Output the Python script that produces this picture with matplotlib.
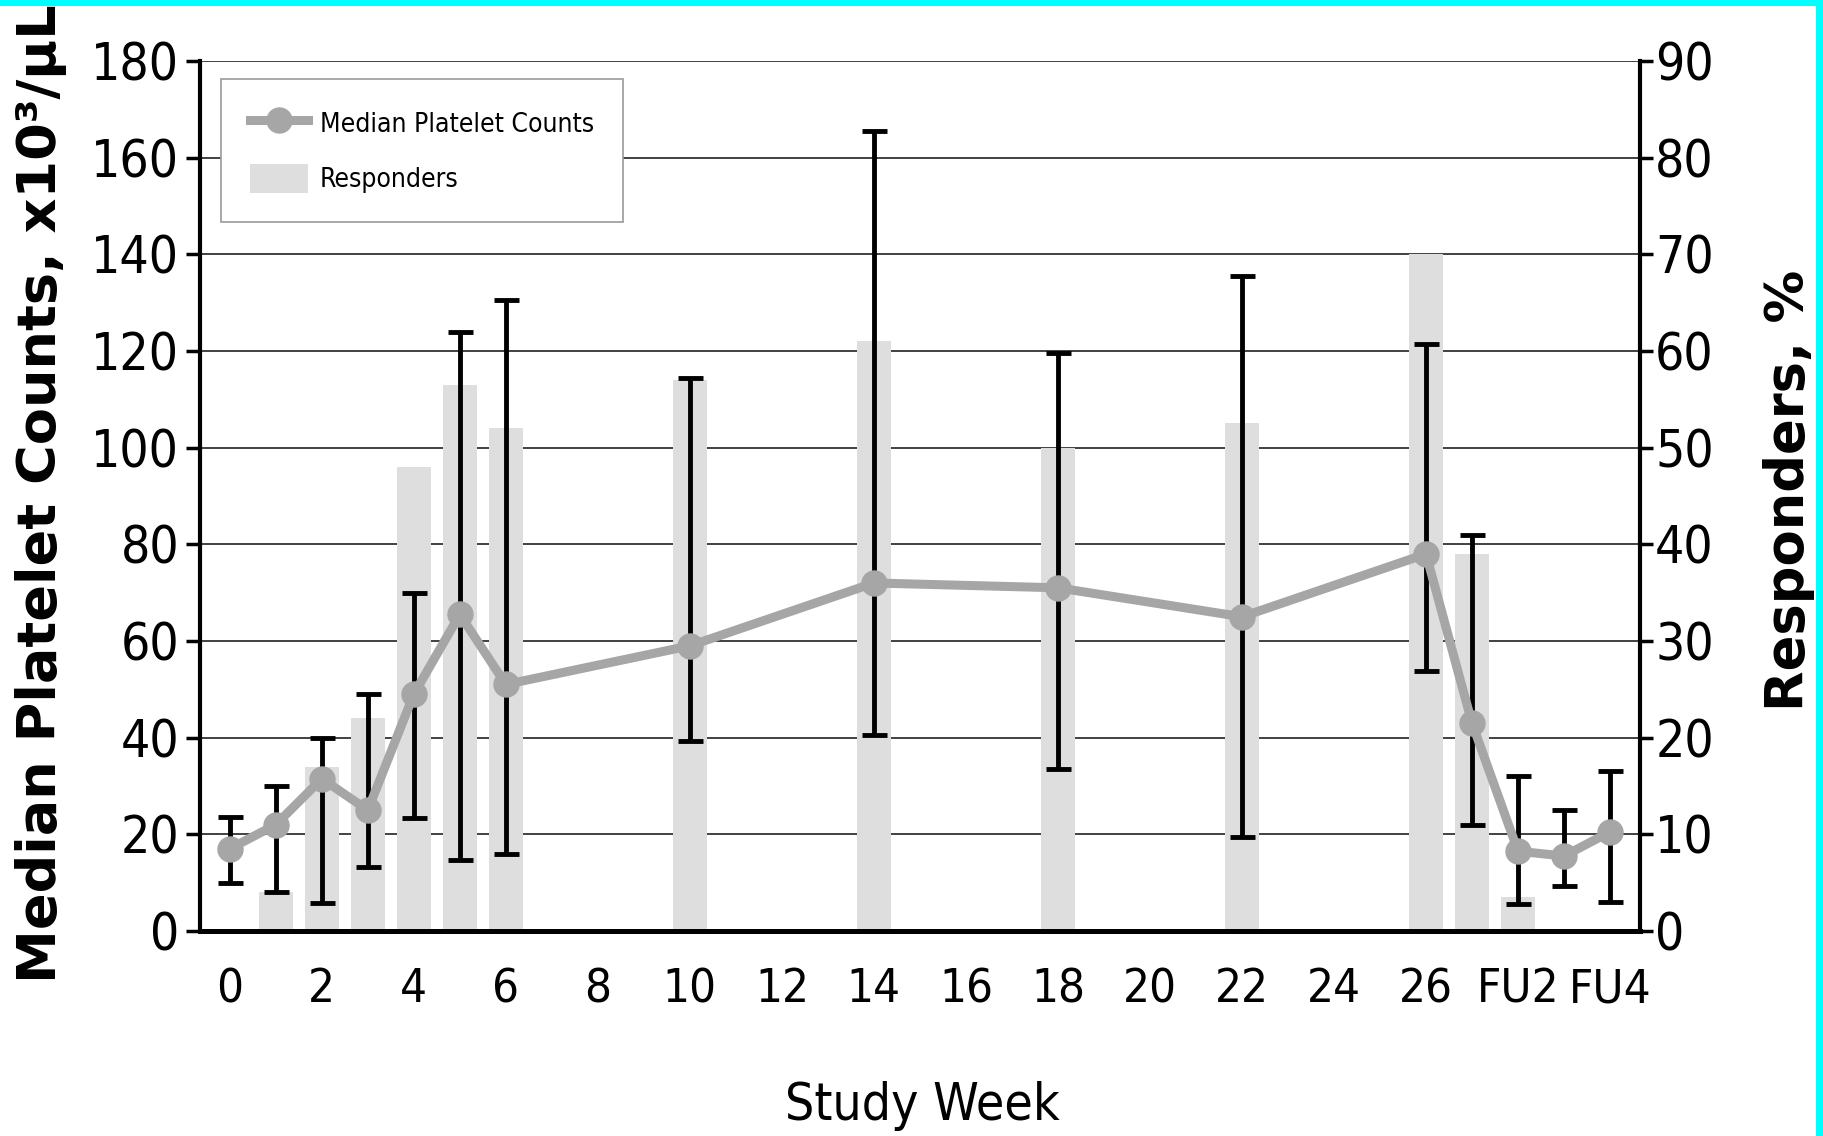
import matplotlib
matplotlib.use("Agg")
import matplotlib.pyplot as plt
from matplotlib.patches import Rectangle

# study weeks (27 = FU1, 28 = FU2, 29 = FU3, 30 = FU4)
weeks = [0, 1, 2, 3, 4, 5, 6, 10, 14, 18, 22, 26, 27, 28, 29, 30]
median = [17, 22, 31.5, 25, 49, 65.5, 51, 59, 72, 71, 65, 78, 43, 16.5, 15.5, 20.5]
low = [10, 8, 5.7, 13.3, 23.3, 14.7, 16, 39.3, 40.5, 33.5, 19.5, 53.7, 22, 5.5, 9.3, 6]
high = [23.5, 30, 40, 49, 70, 124, 130.5, 114.5, 165.5, 119.5, 135.5, 121.5, 82, 32, 25, 33]
responders = [0, 4, 17, 22, 48, 56.5, 52, 57, 61, 50, 52.5, 70, 39, 3.5, 0, 0]

tick_pos = [0, 2, 4, 6, 8, 10, 12, 14, 16, 18, 20, 22, 24, 26, 28, 30]
tick_labels = ['0', '2', '4', '6', '8', '10', '12', '14', '16', '18', '20', '22', '24', '26', 'FU2', 'FU4']

line_color = '#a6a6a6'
bar_color = '#dedede'
cond = dict(family='DejaVu Sans', stretch='condensed')

fig = plt.figure(figsize=(18.24, 11.36), dpi=100)
ax = fig.add_axes([0.1096, 0.1805, 0.7895, 0.7658])
ax2 = ax.twinx()
ax.set_zorder(ax2.get_zorder() + 1)
ax.patch.set_visible(False)

# responders bars on the right axis, grid behind them
ax2.bar(weeks, responders, width=0.75, color=bar_color, label='Responders', zorder=2)
ax2.set_ylim(0, 90)
ax2.set_yticks(range(0, 91, 10))
ax2.set_axisbelow(True)
ax2.grid(axis='y', color='#333333', lw=1.3)

# platelet counts with ranges on the left axis
yerr = [[m - l for m, l in zip(median, low)], [h - m for h, m in zip(high, median)]]
ax.errorbar(weeks, median, yerr=yerr, fmt='none', ecolor='black', elinewidth=3.5,
            capsize=9, capthick=3.5, zorder=2)
line, = ax.plot(weeks, median, color=line_color, lw=6.5, marker='o', ms=18,
                label='Median Platelet Counts', zorder=3)
ax.set_ylim(0, 180)
ax.set_yticks(range(0, 181, 20))
ax.set_xlim(-0.65, 30.65)
ax.set_xticks(tick_pos)
ax.set_xticklabels(tick_labels)

for a in (ax, ax2):
    a.spines['top'].set_visible(False)
ax.spines['right'].set_visible(False)
ax2.spines['left'].set_visible(False)
ax2.spines['bottom'].set_visible(False)
ax.spines['left'].set_linewidth(3)
ax.spines['bottom'].set_linewidth(3.6)
ax2.spines['right'].set_linewidth(3)

ax.tick_params(axis='x', length=0, pad=26)
ax.tick_params(axis='y', length=10, width=2.5, pad=5)
ax2.tick_params(axis='y', length=9, width=2.5, pad=2)
for lab in ax.get_xticklabels():
    lab.set_fontproperties(dict(cond, size=34))
for lab in ax.get_yticklabels() + ax2.get_yticklabels():
    lab.set_fontproperties(dict(cond, size=37))

bars = ax2.containers[0]
leg = ax.legend([line, bars], ['Median Platelet Counts', 'Responders'],
                loc='upper left', bbox_to_anchor=(0.0146, 0.979), borderaxespad=0,
                fancybox=False, framealpha=1, edgecolor='#999999',
                prop=dict(cond, size=19), numpoints=1,
                handlelength=2.2, handleheight=1.3, handletextpad=0.45,
                labelspacing=1.0, borderpad=1.1)
leg.get_frame().set_linewidth(1.2)

fig.text(41 / 1824, 1 - 983 / 1136, 'Median Platelet Counts, x10³/µL', rotation=90,
         ha='center', va='bottom', fontsize=39, fontweight='bold', family='DejaVu Sans')
fig.text(1789 / 1824, 0.568, 'Responders, %', rotation=90, ha='center', va='center',
         fontsize=38, fontweight='bold', family='DejaVu Sans')
fig.text(0.5055, 1 - 1120 / 1136, 'Study Week', ha='center', va='baseline',
         fontproperties=dict(cond, size=37))

# cyan frame strips at top and right edge
fig.add_artist(Rectangle((0, 1 - 6 / 1136), 1, 6 / 1136, transform=fig.transFigure,
                         color='#00ffff', lw=0))
fig.add_artist(Rectangle((1 - 8 / 1824, 0), 8 / 1824, 1, transform=fig.transFigure,
                         color='#00ffff', lw=0))

fig.savefig('out.png', dpi=100)
